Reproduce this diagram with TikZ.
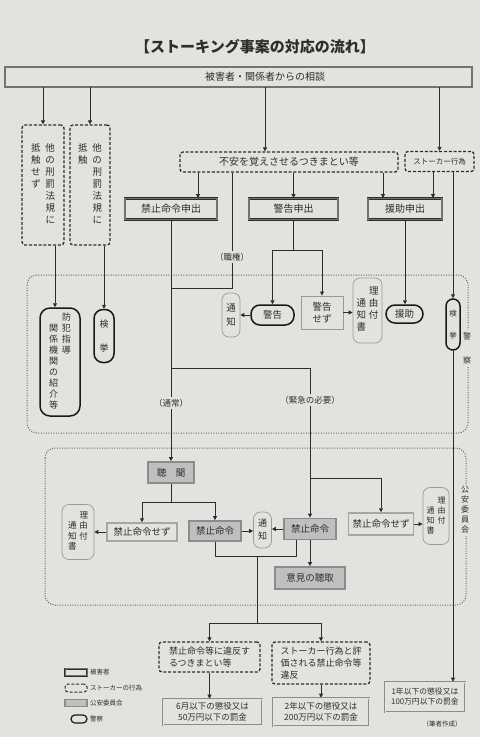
\documentclass[tikz,border=0pt]{standalone}
\usepackage{fontspec}
\setmainfont{Noto Sans CJK JP}
\usetikzlibrary{arrows.meta,calc}
\definecolor{paper}{RGB}{226,226,222}
\definecolor{ink}{RGB}{45,45,45}
\newcommand\fsz[2]{\fontsize{#1}{#2}\selectfont}
\begin{document}
\begin{tikzpicture}[x=1pt,y=-1pt,
  base/.style={inner sep=0pt, font=\fsz{9.5}{12}, text=ink, fill=paper, align=center},
  vict/.style={base, draw=ink, double=black!55, double distance=1.1pt, line width=0.85pt},
  stalk/.style={base, draw=ink, line width=1.3pt, dash pattern=on 3pt off 1.8pt, rounded corners=3pt},
  comm/.style={base, fill=black!25, draw=black!45, line width=1.8pt},
  commw/.style={base, draw=black!35, line width=1.5pt},
  pol/.style={base, draw=black!90, line width=1.5pt},
  soft/.style={base, draw=black!40, line width=0.7pt, rounded corners=7pt},
  plain/.style={base, draw=black!40, line width=0.9pt},
  pen/.style={base, draw=black!45, line width=0.6pt, double=paper, double distance=0.8pt, font=\fsz{8.5}{11}},
  lbl/.style={base, font=\fsz{8.5}{10}, inner sep=1.5pt},
  arr/.style={ink, line width=0.8pt, -{Triangle[length=4pt,width=4pt]}},
  ln/.style={ink, line width=0.8pt},
  region/.style={draw=black!60, line width=1pt, dash pattern=on 1pt off 1.5pt, rounded corners=10pt}]
\fill[paper] (0,0) rectangle (480,737);
\useasboundingbox (0,0) rectangle (480,737);

% regions
\draw[region] (27,275) rectangle (468,433);
\draw[region] (45,448) rectangle (466,605);
\node[base, font=\fsz{8}{24}, inner sep=2pt] (lpol) at (467,348) {警\\察};
\node[base, font=\fsz{8}{10}, inner sep=2pt] (lcom) at (465,510) {公\\安\\委\\員\\会};

% title and top
\node[base, font=\fsz{15}{18}\bfseries, fill=none] (title) at (255,47) {【ストーキング事案の対応の流れ】};
\node[vict, minimum width=467, minimum height=20] (top) at (238.5,77) {};
\node[base, fill=none, font=\fsz{10}{12}] (toplabel) at (265,77) {被害者・関係者からの相談};

% left dashed boxes
\node[stalk, minimum width=42, minimum height=120] (b1) at (43,185)
  {\begin{tabular}{@{}c@{\hspace{5pt}}c@{}}抵&他\\触&の\\せ&刑\\ず&罰\\&法\\&規\\&に\end{tabular}};
\node[stalk, minimum width=40, minimum height=120] (b2) at (90,185)
  {\begin{tabular}{@{}c@{\hspace{5pt}}c@{}}抵&他\\触&の\\&刑\\&罰\\&法\\&規\\&に\end{tabular}};

\node[stalk, minimum width=218, minimum height=20, font=\fsz{10}{12}] (fuan) at (289,162) {不安を覚えさせるつきまとい等};
\node[stalk, minimum width=69, minimum height=20, font=\fsz{7.5}{9}] (stk) at (439.5,161.5) {ストーカー行為};

\node[vict, minimum width=92, minimum height=21, font=\fsz{10}{12}] (kreq) at (171,209) {禁止命令申出};
\node[vict, minimum width=89, minimum height=21, font=\fsz{10}{12}] (wreq) at (293.5,209) {警告申出};
\node[vict, minimum width=74, minimum height=21, font=\fsz{10}{12}] (ereq) at (405,209) {援助申出};

% police contents
\node[pol, rounded corners=10pt, minimum width=40, minimum height=108, font=\fsz{9}{11}] (bohan) at (60,362)
  {\begin{tabular}{@{}c@{\hspace{4pt}}c@{}}&防\\関&犯\\係&指\\機&導\\関&\\の&\\紹&\\介&\\等&\end{tabular}};
\node[pol, rounded corners=9pt, minimum width=20, minimum height=53, font=\fsz{9}{24}] (ken1) at (104,336) {検\\挙};
\node[soft, minimum width=18, minimum height=44, font=\fsz{9.5}{14}] (tsu1) at (231,315) {通\\知};
\node[pol, rounded corners=9pt, minimum width=43, minimum height=20] (keikoku) at (272.5,315) {警告};
\node[plain, minimum width=42, minimum height=33] (ksezu) at (322,312.5) {警告\\せず};
\node[soft, minimum width=29, minimum height=65] (riyu1) at (367.5,310.5)
  {\begin{tabular}{@{}c@{\hspace{3pt}}c@{}}&理\\通&由\\知&付\\書&\end{tabular}};
\node[pol, rounded corners=9pt, minimum width=37, minimum height=18] (enjo) at (404.5,314) {援助};
\node[pol, rounded corners=7pt, minimum width=14, minimum height=51, font=\fsz{7.5}{22}] (ken2) at (453,324.5) {検\\挙};

% labels on lines
\node[lbl] (shoku) at (232,257) {（職権）};
\node[lbl] (tsujo) at (171,403) {（通常）};
\node[lbl] (kinkyu) at (310,400) {（緊急の必要）};

% committee contents
\node[comm, minimum width=46, minimum height=21] (chomon) at (171,472.5) {聴\quad 聞};
\node[soft, minimum width=32, minimum height=55, font=\fsz{8.5}{10}] (riyuL) at (78,532)
  {\begin{tabular}{@{}c@{\hspace{3pt}}c@{}}&理\\通&由\\知&付\\書&\end{tabular}};
\node[commw, minimum width=70, minimum height=18] (sezL) at (142,532) {禁止命令せず};
\node[comm, minimum width=52, minimum height=20] (kinL) at (215,531) {禁止命令};
\node[soft, minimum width=18, minimum height=36, font=\fsz{9}{13}] (tsu2) at (262.5,530) {通\\知};
\node[comm, minimum width=52, minimum height=21] (kinR) at (310,529) {禁止命令};
\node[commw, minimum width=65, minimum height=22] (sezR) at (381,524) {禁止命令せず};
\node[soft, minimum width=26, minimum height=57, font=\fsz{8}{10}] (riyuR) at (436,516)
  {\begin{tabular}{@{}c@{\hspace{3pt}}c@{}}&理\\通&由\\知&付\\書&\end{tabular}};
\node[comm, minimum width=70, minimum height=22] (iken) at (310,578) {意見の聴取};

% bottom
\node[stalk, font=\fsz{9}{12}, minimum width=101, minimum height=30, align=left] (vio1) at (209.5,657) {禁止命令等に違反す\\るつきまとい等};
\node[stalk, font=\fsz{9}{12}, minimum width=98, minimum height=42, align=left] (vio2) at (321,663) {ストーカー行為と評\\価される禁止命令等\\違反};
\node[pen, minimum width=99, minimum height=26] (pen1) at (212.5,712) {6月以下の懲役又は\\50万円以下の罰金};
\node[pen, minimum width=96, minimum height=28] (pen2) at (321,712) {2年以下の懲役又は\\200万円以下の罰金};
\node[pen, minimum width=80, minimum height=30, font=\fsz{7.8}{10}] (pen3) at (425,697) {1年以下の懲役又は\\100万円以下の罰金};
\node[base, font=\fsz{6.5}{8}, fill=none] (src) at (442,724) {（筆者作成）};

% legend
\node[vict, minimum width=22, minimum height=7, double distance=0.8pt, line width=0.6pt] (lg1) at (76,672) {};
\node[base, font=\fsz{6.5}{8}, fill=none, anchor=west] (lt1) at (90,672) {被害者};
\node[stalk, minimum width=22, minimum height=8, line width=1pt] (lg2) at (76,688) {};
\node[base, font=\fsz{6.5}{8}, fill=none, anchor=west] (lt2) at (90,688) {ストーカーの行為};
\node[comm, minimum width=22, minimum height=7, line width=1.2pt] (lg3) at (76,703) {};
\node[base, font=\fsz{6.5}{8}, fill=none, anchor=west] (lt3) at (90,703) {公安委員会};
\node[pol, rounded corners=4pt, minimum width=16, minimum height=8, line width=1.2pt] (lg4) at (79,719) {};
\node[base, font=\fsz{6.5}{8}, fill=none, anchor=west] (lt4) at (90,719) {警察};

% coordinates
\coordinate (xk) at (198,0);
\coordinate (xe1) at (383,0);
\coordinate (xe2) at (433,0);
\coordinate (xb) at (55,0);
\coordinate (xm) at (296,0);
\coordinate (j1) at (171,288);
\coordinate (j2) at (171,368);
\coordinate (j3) at (310,478);
\coordinate (j4) at (171,502);
\coordinate (m) at (257,556);
\coordinate (j5) at (257,623);
\coordinate (j6) at (293.5,250);

% connectors
\draw[arr] (top.south -| b1) -- (b1.north);
\draw[arr] (top.south -| b2) -- (b2.north);
\draw[arr] (top.south -| toplabel) -- (fuan.north -| toplabel);
\draw[arr] (top.south -| stk) -- (stk.north);
\draw[arr] (fuan.south -| xk) -- (kreq.north -| xk);
\draw[arr] (fuan.south -| wreq) -- (wreq.north);
\draw[arr] (fuan.south -| xe1) -- (ereq.north -| xe1);
\draw[arr] (stk.south -| xe2) -- (ereq.north -| xe2);
\draw[ln] (fuan.south -| shoku) -- (shoku.north);
\draw[ln] (shoku.south) |- (j1);
\draw[ln] (kreq.south) -- (tsujo.north);
\draw[arr] (tsujo.south) -- (chomon.north);
\draw[ln] (j2) -| (kinkyu.north);
\draw[arr] (kinkyu.south) -- (kinR.north);
\draw[arr] (j3) -| (sezR.north);
\draw[arr] (sezR.east) -- (riyuR.west |- sezR.east);
\draw[arr] (kinR.south) -- (iken.north);
\draw[arr] (kinL.east) -- (tsu2.west |- kinL.east);
\draw[arr] (kinR.west) -- (tsu2.east |- kinR.west);
\draw[arr] (sezL.west) -- (riyuL.east |- sezL.west);
\draw[ln] (chomon.south) -- (j4);
\draw[arr] (j4) -| (sezL.north);
\draw[arr] (j4) -| (kinL.north);
\draw[ln] (kinL.south) |- (m);
\draw[ln] (kinR.south -| xm) |- (m);
\draw[ln] (m) -- (j5);
\draw[arr] (j5) -| (vio1.north);
\draw[arr] (j5) -| (vio2.north);
\draw[arr] (vio1.south) -- (vio1.south |- pen1.north);
\draw[arr] (vio2.south) -- (vio2.south |- pen2.north);
\draw[ln] (wreq.south) -- (j6);
\draw[arr] (j6) -| (keikoku.north);
\draw[arr] (j6) -| (ksezu.north);
\draw[arr] (keikoku.west) -- (tsu1.east |- keikoku.west);
\draw[arr] (ksezu.east) -- (riyu1.west |- ksezu.east);
\draw[arr] (ereq.south) -- (ereq.south |- enjo.north);
\draw[arr] (stk.south -| ken2) -- (ken2.north);
\draw[arr] (ken2.south) -- (ken2.south |- pen3.north);
\draw[arr] (b1.south -| xb) -- (bohan.north -| xb);
\draw[arr] (b2.south -| ken1) -- (ken1.north);
\end{tikzpicture}
\end{document}
